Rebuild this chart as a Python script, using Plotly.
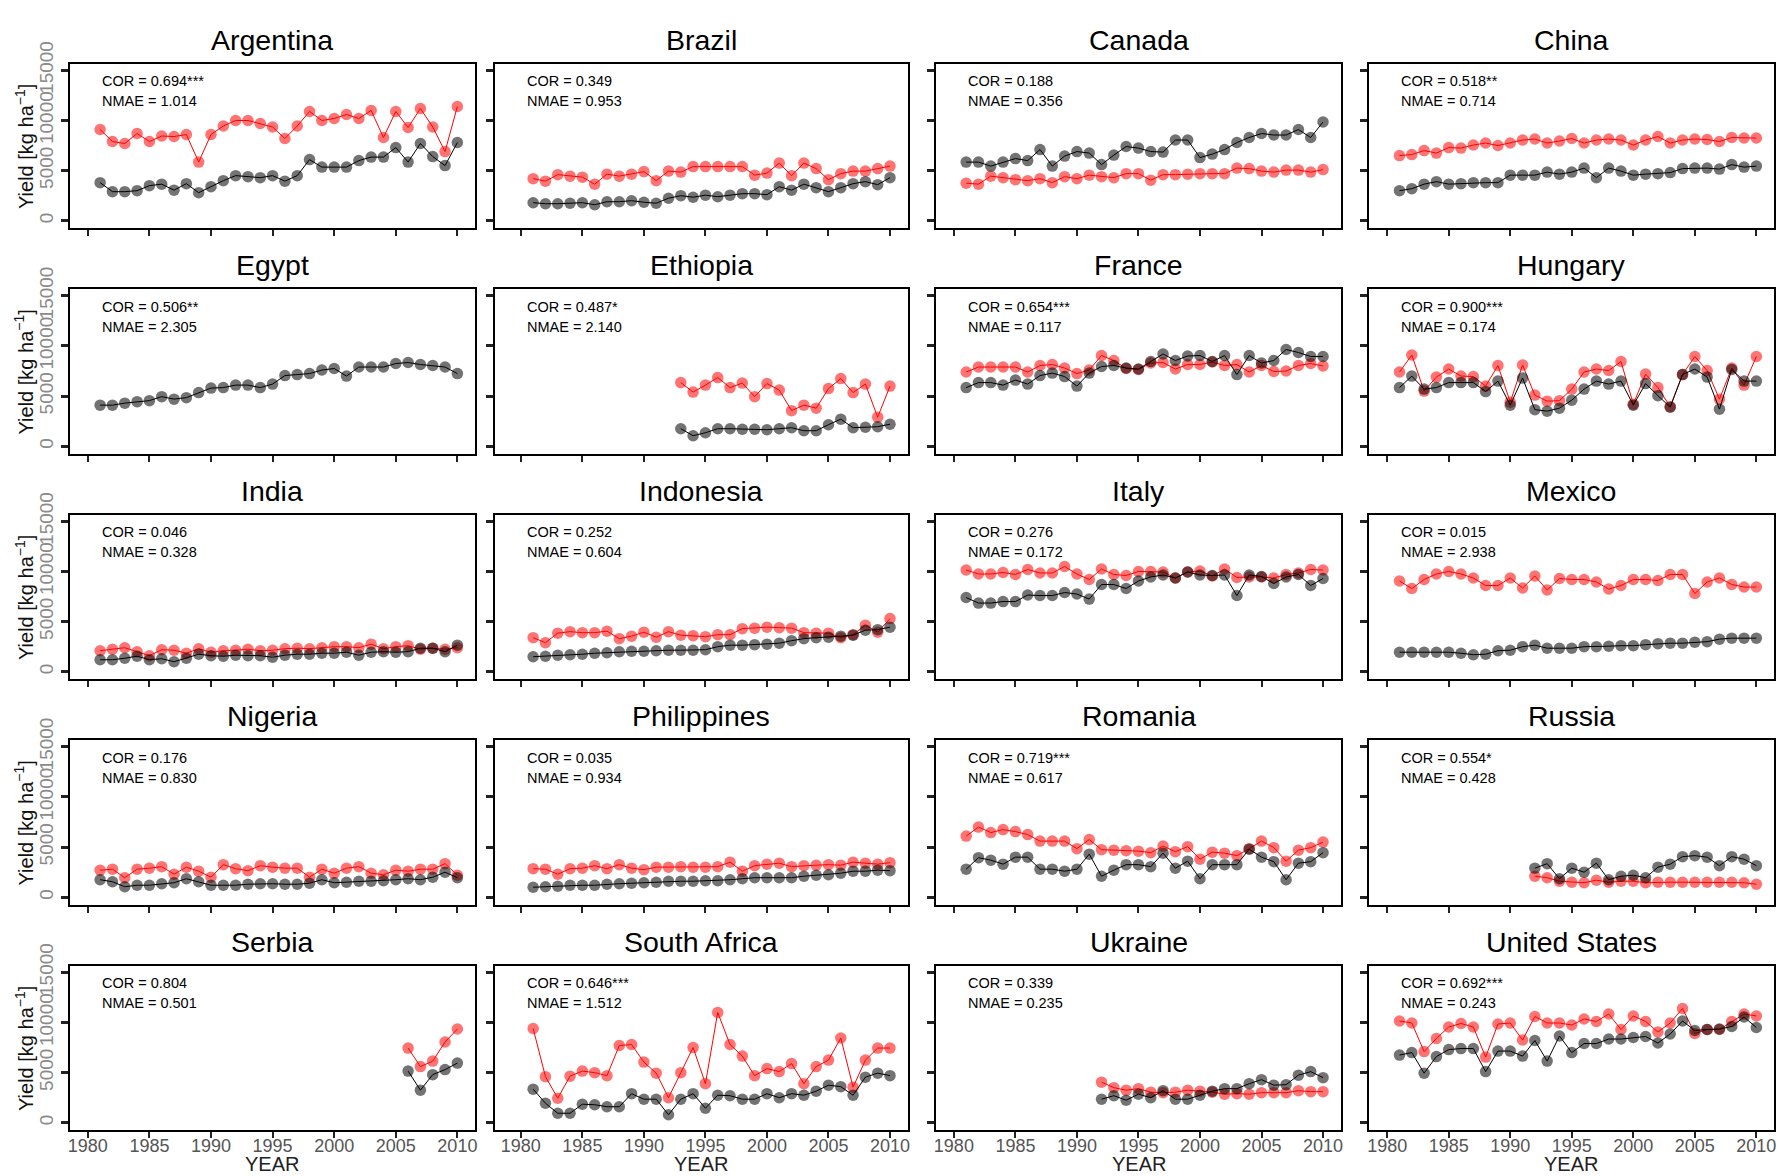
import plotly.graph_objects as go

# ---------------- data (kg/ha), red = simulated, black = observed ----------------
COUNTRIES = ["Argentina", "Brazil", "Canada", "China",
             "Egypt", "Ethiopia", "France", "Hungary",
             "India", "Indonesia", "Italy", "Mexico",
             "Nigeria", "Philippines", "Romania", "Russia",
             "Serbia", "South Africa", "Ukraine", "United States"]

COR = ["0.694***", "0.349", "0.188", "0.518**",
       "0.506**", "0.487*", "0.654***", "0.900***",
       "0.046", "0.252", "0.276", "0.015",
       "0.176", "0.035", "0.719***", "0.554*",
       "0.804", "0.646***", "0.339", "0.692***"]
NMAE = ["1.014", "0.953", "0.356", "0.714",
        "2.305", "2.140", "0.117", "0.174",
        "0.328", "0.604", "0.172", "2.938",
        "0.830", "0.934", "0.617", "0.428",
        "0.501", "1.512", "0.235", "0.243"]

# first year of each country's series
START = [1981, 1981, 1981, 1981,
         1981, 1993, 1981, 1981,
         1981, 1981, 1981, 1981,
         1981, 1981, 1981, 1992,
         2006, 1981, 1992, 1981]

argentina_red = [9100, 7900, 7700, 8700, 7900, 8450, 8400, 8600, 5850, 8600, 9450, 10000, 10000, 9700, 9350,
                 8200, 9450, 10900, 10000, 10200, 10600, 10200, 11000, 8300, 10900, 9300, 11200, 9350, 6900, 11400]
argentina_black = [3800, 2900, 2900, 3000, 3500, 3650, 3050, 3700, 2800, 3400, 4000, 4500, 4400, 4300, 4500,
                   3950, 4500, 6100, 5350, 5350, 5350, 6000, 6350, 6350, 7300, 5850, 7700, 6400, 5500, 7800]
brazil_red = [4200, 3950, 4600, 4450, 4350, 3650, 4650, 4450, 4650, 4900, 4000, 4950, 4850, 5400, 5400,
              5400, 5400, 5400, 4550, 4750, 5750, 4500, 5750, 5200, 4100, 4700, 4950, 4950, 5200, 5450]
brazil_black = [1800, 1700, 1700, 1750, 1800, 1600, 1900, 1900, 2000, 1850, 1750, 2250, 2500, 2350, 2550,
                2400, 2550, 2700, 2700, 2600, 3400, 3050, 3650, 3300, 2900, 3300, 3700, 3900, 3600, 4300]
canada_red = [3750, 3650, 4450, 4300, 4100, 4000, 4200, 3800, 4400, 4200, 4550, 4400, 4300, 4700, 4700,
              4050, 4600, 4600, 4650, 4700, 4700, 4700, 5250, 5200, 4950, 4850, 5050, 5050, 4850, 5100]
canada_black = [5850, 5850, 5450, 5850, 6200, 6000, 7100, 5450, 6450, 6900, 6750, 5600, 6550, 7400, 7250,
                6900, 6850, 8050, 8050, 6300, 6650, 7100, 7800, 8300, 8700, 8550, 8550, 9100, 8300, 9850]
china_red = [6500, 6600, 7000, 6750, 7300, 7250, 7550, 7750, 7500, 7750, 8050, 8150, 7750, 7950, 8200,
             7750, 8050, 8150, 8050, 7550, 8050, 8400, 7750, 8050, 8150, 8100, 7900, 8300, 8250, 8250]
china_black = [3000, 3200, 3650, 3900, 3650, 3700, 3800, 3800, 3800, 4550, 4550, 4550, 4850, 4650, 4850,
               5250, 4300, 5250, 4950, 4550, 4650, 4700, 4800, 5200, 5250, 5250, 5150, 5600, 5350, 5450]
egypt_red = []
egypt_black = [4100, 4100, 4300, 4450, 4550, 4950, 4700, 4850, 5350, 5800, 5850, 6100, 6100, 5850, 6200,
               7050, 7150, 7250, 7600, 7750, 7000, 7900, 7900, 7900, 8250, 8350, 8150, 8050, 7900, 7250]
ethiopia_red = [6350, 5400, 6100, 6850, 5850, 6300, 4950, 6250, 5600, 3550, 4100, 3800, 5750, 6750, 5350,
                6200, 2900, 6000]
ethiopia_black = [1750, 1050, 1350, 1750, 1750, 1700, 1700, 1650, 1750, 1850, 1550, 1550, 2150, 2700, 1850,
                  1900, 1950, 2200]
france_red = [7400, 7900, 7900, 7900, 7900, 7400, 8050, 8150, 7800, 7250, 7600, 9050, 8550, 7750, 7650,
              8300, 8350, 7700, 8150, 8150, 8400, 8050, 8150, 7400, 8050, 7450, 7500, 8050, 8250, 8000]
france_black = [5850, 6350, 6350, 6100, 6600, 6200, 7050, 7300, 6950, 6000, 7300, 7950, 8050, 7800, 7700,
                8450, 9200, 8550, 9000, 9050, 8450, 9050, 7150, 9050, 8300, 8550, 9650, 9350, 8950, 8950]
hungary_red = [7400, 9100, 5500, 6900, 7700, 7000, 6950, 6000, 8050, 4400, 8100, 5100, 4500, 4550, 5700,
               7400, 7700, 7550, 8450, 4200, 7200, 5850, 3950, 7150, 8950, 7550, 4700, 7800, 6100, 8950]
hungary_black = [5850, 7000, 5700, 5850, 6350, 6350, 6350, 5450, 6500, 4100, 6800, 3650, 3500, 3800, 4600,
                 5700, 6500, 6200, 6500, 4100, 6250, 5050, 3900, 7150, 7700, 6900, 3700, 7650, 6500, 6500]
india_red = [2100, 2250, 2400, 2000, 1600, 2200, 2150, 1850, 2300, 1950, 2100, 2150, 2250, 2100, 2150,
             2300, 2350, 2300, 2400, 2500, 2500, 2400, 2750, 2300, 2500, 2600, 2250, 2350, 2250, 2400]
india_black = [1200, 1200, 1350, 1550, 1200, 1300, 1000, 1350, 1750, 1600, 1550, 1650, 1600, 1600, 1450,
               1650, 1750, 1750, 1850, 1850, 1950, 1650, 1950, 2000, 1950, 2000, 2350, 2350, 2000, 2650]
indonesia_red = [3400, 2900, 3850, 4000, 3900, 3900, 4050, 3300, 3550, 3950, 3450, 4000, 3650, 3600, 3500,
                 3700, 3700, 4300, 4350, 4450, 4400, 4350, 3900, 3850, 3850, 3400, 3700, 4650, 3950, 5300]
indonesia_black = [1500, 1550, 1650, 1700, 1750, 1850, 1900, 2000, 2050, 2050, 2100, 2150, 2150, 2150, 2200,
                   2500, 2650, 2650, 2700, 2750, 2850, 3100, 3300, 3400, 3450, 3550, 3650, 4150, 4200, 4450]
italy_red = [10150, 9750, 9750, 9900, 9700, 10200, 9850, 9850, 10500, 9750, 9200, 10250, 9700, 9600, 10000,
             10000, 9950, 9350, 9950, 10050, 9550, 10250, 9400, 9450, 9450, 9350, 9700, 9850, 10200, 10150]
italy_black = [7400, 6850, 6850, 7000, 7000, 7650, 7600, 7600, 7900, 7750, 7250, 8700, 8700, 8300, 9050,
               9450, 9650, 9350, 9950, 9650, 9600, 9650, 7600, 9650, 9500, 8800, 9450, 9700, 8600, 9300]
mexico_red = [9050, 8300, 9200, 9750, 10000, 9750, 9350, 8600, 8600, 9350, 8350, 9550, 8150, 9300, 9200,
              9200, 8950, 8250, 8600, 9200, 9200, 9100, 9700, 9700, 7800, 8950, 9350, 8700, 8450, 8450]
mexico_black = [1950, 1950, 1950, 1950, 1950, 1850, 1700, 1750, 2100, 2150, 2500, 2650, 2350, 2350, 2350,
                2500, 2500, 2550, 2600, 2600, 2700, 2800, 2850, 2850, 2950, 3000, 3250, 3350, 3350, 3350]
nigeria_red = [2700, 2800, 1950, 2800, 2900, 3050, 2300, 3000, 2600, 2000, 3250, 2850, 2650, 3150, 3000,
               2900, 2900, 2000, 2800, 2400, 2900, 3050, 2400, 2250, 2700, 2600, 2800, 2800, 3350, 2200]
nigeria_black = [1750, 1550, 1050, 1200, 1200, 1350, 1450, 1850, 1550, 1200, 1200, 1200, 1300, 1350, 1350,
                 1300, 1300, 1400, 1750, 1450, 1500, 1600, 1600, 1650, 1750, 1850, 1750, 2000, 2500, 1950]
philippines_red = [2850, 2800, 2300, 2850, 2900, 3150, 2850, 3250, 2900, 2750, 3000, 3000, 3050, 3000, 3000,
                   3050, 3500, 2600, 3150, 3300, 3400, 3050, 3150, 3200, 3250, 3200, 3500, 3400, 3300, 3450]
philippines_black = [1000, 1050, 1100, 1200, 1200, 1200, 1300, 1350, 1400, 1450, 1500, 1600, 1600, 1600, 1650,
                     1650, 1750, 1850, 1950, 1950, 1950, 1950, 2100, 2200, 2250, 2400, 2600, 2600, 2700, 2650]
romania_red = [6100, 7000, 6450, 6750, 6550, 6250, 5600, 5600, 5600, 4850, 5750, 4750, 4700, 4650, 4600,
               4450, 5100, 4550, 5050, 3800, 4500, 4400, 4150, 4850, 5600, 4950, 3600, 4700, 4950, 5500]
romania_black = [2800, 3950, 3700, 3300, 4000, 4000, 2800, 2800, 2600, 2800, 4300, 2100, 2700, 3250, 3250,
                 3050, 4400, 2900, 3600, 1850, 3250, 3250, 3250, 4800, 4000, 3550, 1750, 3400, 3550, 4450]
russia_red = [2100, 1950, 1600, 1500, 1450, 1700, 1500, 1600, 1600, 1450, 1500, 1500, 1500, 1500, 1500,
              1500, 1500, 1450, 1300]
russia_black = [2900, 3350, 1850, 2900, 2500, 3400, 1750, 2100, 2200, 1950, 3000, 3300, 4050, 4150, 4000,
                3150, 4050, 3800, 3150]
serbia_red = [7450, 5600, 6150, 8050, 9350]
serbia_black = [5150, 3250, 4800, 5300, 5950]
south_africa_red = [9400, 4600, 2450, 4650, 5150, 5000, 4700, 7700, 7800, 6050, 4950, 2500, 5000, 7500, 3900,
                    11000, 7800, 6650, 4700, 5400, 5100, 5900, 3900, 5600, 6250, 8450, 3550, 6250, 7450, 7450]
south_africa_black = [3350, 1950, 950, 950, 1850, 1800, 1600, 1600, 2900, 2350, 2350, 800, 2350, 2900, 1450,
                      2750, 2700, 2350, 2350, 2900, 2500, 2900, 2750, 3150, 3750, 3600, 2750, 4550, 4950, 4700]
ukraine_red = [4050, 3500, 3250, 3400, 3050, 3000, 3050, 3250, 3150, 3050, 2850, 2900, 2850, 3000, 3000,
               3000, 3200, 3100, 3100]
ukraine_black = [2350, 2700, 2250, 2850, 2500, 3200, 2350, 2350, 2750, 3150, 3400, 3400, 3900, 4300, 3750,
                 3800, 4750, 5100, 4500]
united_states_red = [10150, 9950, 7100, 8400, 9550, 9900, 9550, 6550, 9850, 9950, 8250, 10600, 9950, 9950, 9750,
                     10350, 10100, 10850, 9300, 10650, 10100, 9050, 9950, 11400, 8900, 9300, 9300, 10100, 10850, 10650]
united_states_black = [6750, 7000, 4950, 6600, 7300, 7400, 7400, 5100, 7150, 7150, 6650, 8200, 6150, 8650, 7000,
                       7900, 7900, 8350, 8350, 8500, 8600, 7950, 8850, 10150, 9200, 9300, 9350, 9600, 10550, 9500]

RED = [argentina_red, brazil_red, canada_red, china_red, egypt_red, ethiopia_red, france_red, hungary_red,
       india_red, indonesia_red, italy_red, mexico_red, nigeria_red, philippines_red, romania_red, russia_red,
       serbia_red, south_africa_red, ukraine_red, united_states_red]
BLACK = [argentina_black, brazil_black, canada_black, china_black, egypt_black, ethiopia_black, france_black,
         hungary_black, india_black, indonesia_black, italy_black, mexico_black, nigeria_black, philippines_black,
         romania_black, russia_black, serbia_black, south_africa_black, ukraine_black, united_states_black]

X_TICKS = [1980, 1985, 1990, 1995, 2000, 2005, 2010]
X_LABELS = ["1980", "1985", "1990", "1995", "2000", "2005", "2010"]
Y_TICKS = [0, 5000, 10000, 15000]
Y_LABELS = ["0", "5000", "10000", "15000"]

# ---------------- layout geometry (pixels) ----------------
W, H = 1784, 1176
COL_LEFT = [68, 494, 936, 1370]
COL_RIGHT = [474, 908, 1342.3, 1776]
COL_T1980 = [86, 520, 954, 1388.3]      # pixel of the 1980 tick
COL_T2010 = [456.4, 890, 1324, 1758.3]  # pixel of the 2010 tick
ROW_TOP = [41.7, 271.7, 501.7, 731.7, 961.7]
BOX_H = 167.6
FONT = "Liberation Sans, Arial, Helvetica, sans-serif"


def px(xp):
    return xp / W


def py(yp):
    return 1 - yp / H


fig = go.Figure()
annotations = []
layout_axes = {}

for i, name in enumerate(COUNTRIES):
    r, c = divmod(i, 4)
    k = "" if i == 0 else str(i + 1)
    left, right, top = COL_LEFT[c], COL_RIGHT[c], ROW_TOP[r]
    ppy = (COL_T2010[c] - COL_T1980[c]) / 30.0
    xrange = [1980 - (COL_T1980[c] - left) / ppy, 2010 + (right - COL_T2010[c]) / ppy]
    start = START[i]
    xr = list(range(start, start + len(RED[i])))
    xb = list(range(start, start + len(BLACK[i])))
    if RED[i]:
        fig.add_trace(go.Scatter(
            x=xr, y=RED[i], mode="lines+markers", xaxis="x" + k, yaxis="y" + k,
            line=dict(color="#FF0000", width=1),
            marker=dict(color="rgba(255,0,0,0.55)", size=11.5, line=dict(width=0)),
            showlegend=False, hoverinfo="skip"))
    fig.add_trace(go.Scatter(
        x=xb, y=BLACK[i], mode="lines+markers", xaxis="x" + k, yaxis="y" + k,
        line=dict(color="#000000", width=1),
        marker=dict(color="rgba(0,0,0,0.55)", size=11.5, line=dict(width=0)),
        showlegend=False, hoverinfo="skip"))

    layout_axes["xaxis" + k] = dict(
        domain=[px(left), px(right)], anchor="y" + k,
        range=xrange, tickmode="array", tickvals=X_TICKS, ticktext=X_LABELS,
        showticklabels=(r == 4), ticks="outside", ticklen=6, tickwidth=2.2, tickcolor="#222",
        ticklabelstandoff=-8,
        showline=True, mirror=True, linecolor="#000", linewidth=1.6,
        showgrid=False, zeroline=False,
        tickfont=dict(family=FONT, size=18, color="#555"))
    layout_axes["yaxis" + k] = dict(
        domain=[py(top + BOX_H), py(top)], anchor="x" + k,
        range=[-743, 15645], tickmode="array", tickvals=Y_TICKS, ticktext=Y_LABELS,
        showticklabels=(c == 0), ticks="outside", ticklen=7, tickwidth=2.5, tickcolor="#222",
        tickangle=-90,
        showline=True, mirror=True, linecolor="#000", linewidth=1.6,
        showgrid=False, zeroline=False,
        tickfont=dict(family=FONT, size=19, color="#8a8a8a"))

    cx = (left + right) / 2
    annotations.append(dict(
        x=px(cx), y=py(top - 24.5), xref="paper", yref="paper",
        text=name, showarrow=False, xanchor="center", yanchor="middle",
        font=dict(family=FONT, size=28.5, color="#000")))
    annotations.append(dict(
        x=px(left + 30), y=py(top + 17.6), xref="paper", yref="paper",
        text="COR = " + COR[i], showarrow=False, xanchor="left", yanchor="middle",
        font=dict(family=FONT, size=14.5, color="#000")))
    annotations.append(dict(
        x=px(left + 30), y=py(top + 38.3), xref="paper", yref="paper",
        text="NMAE = " + NMAE[i], showarrow=False, xanchor="left", yanchor="middle",
        font=dict(family=FONT, size=14.5, color="#000")))

    if c == 0:
        annotations.append(dict(
            x=px(22), y=py(top + BOX_H / 2), xref="paper", yref="paper",
            text="Yield [kg ha<sup>\u22121</sup>]", showarrow=False, textangle=-90,
            xanchor="center", yanchor="middle",
            font=dict(family=FONT, size=20, color="#111")))
    if r == 4:
        annotations.append(dict(
            x=px(cx), y=py(1164), xref="paper", yref="paper",
            text="YEAR", showarrow=False, xanchor="center", yanchor="middle",
            font=dict(family=FONT, size=20, color="#222")))

fig.update_layout(
    width=W, height=H,
    margin=dict(l=0, r=0, t=0, b=0),
    paper_bgcolor="white", plot_bgcolor="white",
    annotations=annotations,
    font=dict(family=FONT),
    **layout_axes)

POST = ("document.documentElement.style.margin='0';document.body.style.margin='0';"
        "document.body.style.padding='0';document.body.style.overflow='hidden';"
        "document.documentElement.style.overflow='hidden';"
        "var d=document.getElementById('{plot_id}');"
        "d.style.position='fixed';d.style.left='0px';d.style.top='0px';")

fig.write_html("out.html", post_script=POST, config={"displayModeBar": False})
